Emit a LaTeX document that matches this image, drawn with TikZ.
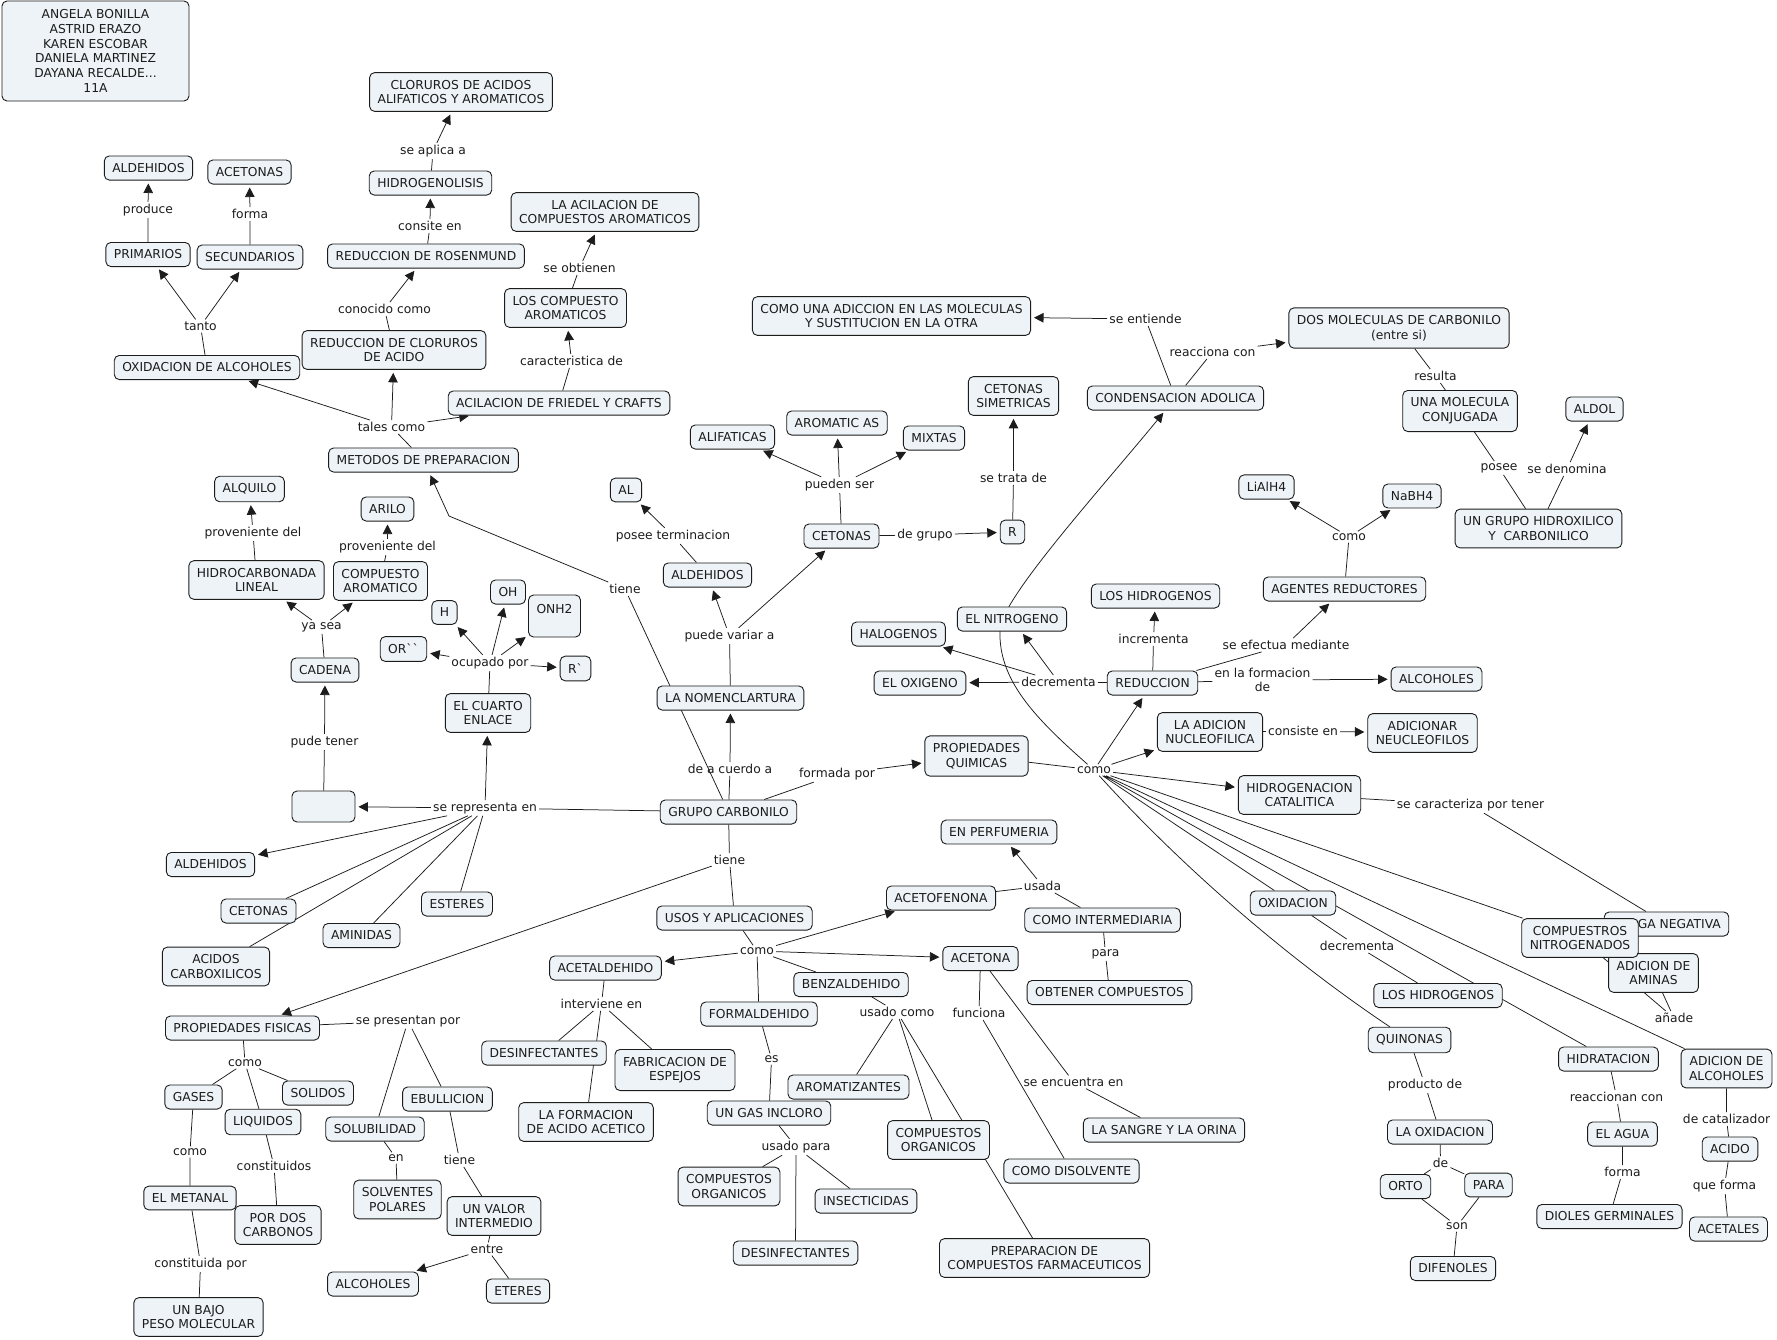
\documentclass[tikz,border=0pt]{standalone}
\usepackage{fontspec}
\setmainfont{DejaVu Sans}
\usetikzlibrary{arrows.meta}

\definecolor{cfill}{HTML}{EDF3F6}
\definecolor{ink}{HTML}{1C1C1C}

\pgfdeclarelayer{bg}
\pgfsetlayers{bg,main}

\tikzset{
  cpt/.style={draw=ink, line width=0.9pt, fill=cfill, rounded corners=5pt,
    inner xsep=8pt, inner ysep=7.4pt, align=center, text=ink},
  lbl/.style={inner sep=2pt, align=center, text=ink},
  ln/.style={draw=ink, line width=0.75pt},
  arr/.style={ln, -{Triangle[length=9.5pt,width=9.5pt]}, shorten >=3pt},
}

\begin{document}
\begin{tikzpicture}[x=1pt,y=-1pt,font=\fontsize{12.3}{14.7}\selectfont]
\useasboundingbox (0,0) rectangle (1777,1339);

% authors
\node[cpt, minimum width=187pt, minimum height=100pt] (autores) at (95.5,51)
  {ANGELA BONILLA\\ASTRID ERAZO\\KAREN ESCOBAR\\DANIELA MARTINEZ\\DAYANA RECALDE...\\11A};

% metodos de preparacion
\node[cpt] (cloruros) at (461,92) {CLORUROS DE ACIDOS\\ALIFATICOS Y AROMATICOS};
\node[cpt] (hidrogenolisis) at (430.5,183) {HIDROGENOLISIS};
\node[cpt] (rosenmund) at (426,256) {REDUCCION DE ROSENMUND};
\node[cpt] (redclor) at (394,350) {REDUCCION DE CLORUROS\\DE ACIDO};
\node[cpt] (oxialc) at (207,367.5) {OXIDACION DE ALCOHOLES};
\node[cpt] (primarios) at (148,254.5) {PRIMARIOS};
\node[cpt] (secundarios) at (250,257) {SECUNDARIOS};
\node[cpt] (aldeh1) at (148.5,168) {ALDEHIDOS};
\node[cpt] (aceton1) at (249.5,172) {ACETONAS};
\node[cpt] (acilcomp) at (605,212) {LA ACILACION DE\\COMPUESTOS AROMATICOS};
\node[cpt] (compaurom) at (565.5,308) {LOS COMPUESTO\\AROMATICOS};
\node[cpt] (friedel) at (559,403) {ACILACION DE FRIEDEL Y CRAFTS};
\node[cpt] (metodos) at (423.5,460) {METODOS DE PREPARACION};

\node[lbl] (lAplica) at (433,151) {se aplica a};
\node[lbl] (lConsite) at (430,226) {consite en};
\node[lbl] (lConocido) at (384.5,309) {conocido como};
\node[lbl] (lTanto) at (200.5,326) {tanto};
\node[lbl] (lProduce) at (148,210) {produce};
\node[lbl] (lForma) at (250,214) {forma};
\node[lbl] (lTales) at (391.5,427) {tales como};
\node[lbl] (lObtienen) at (579.5,268) {se obtienen};
\node[lbl] (lCaract) at (571.5,361) {caracteristica de};

% cetonas and condensacion
\node[cpt] (comouna) at (891.5,316) {COMO UNA ADICCION EN LAS MOLECULAS\\Y SUSTITUCION EN LA OTRA};
\node[cpt] (alifaticas) at (732.5,437) {ALIFATICAS};
\node[cpt] (aromaticas) at (837,423) {AROMATIC AS};
\node[cpt] (mixtas) at (934,438) {MIXTAS};
\node[cpt] (cetsim) at (1013.5,396) {CETONAS\\SIMETRICAS};
\node[cpt] (condens) at (1175.5,398) {CONDENSACION ADOLICA};
\node[cpt] (dosmol) at (1399,328) {DOS MOLECULAS DE CARBONILO\\(entre si)};
\node[cpt] (conjugada) at (1460,411) {UNA MOLECULA\\CONJUGADA};
\node[cpt] (aldol) at (1594.5,409) {ALDOL};
\node[cpt] (hidroxi) at (1538.5,528.5) {UN GRUPO HIDROXILICO\\Y\ \ CARBONILICO};

\node[lbl] (lEntiende) at (1145.5,319) {se entiende};
\node[lbl] (lReacc) at (1212.5,352) {reacciona con};
\node[lbl] (lResulta) at (1435.5,376) {resulta};
\node[lbl] (lPosee) at (1499,468) {posee};
\node[lbl] (lDenomina) at (1567,469) {se denomina};

% cadena and cuarto enlace
\node[cpt] (alquilo) at (249.5,489) {ALQUILO};
\node[cpt] (arilo) at (387.5,509) {ARILO};
\node[cpt] (hidrolin) at (256.5,580) {HIDROCARBONADA\\LINEAL};
\node[cpt] (compar) at (380.5,581) {COMPUESTO\\AROMATICO};
\node[cpt] (cadena) at (325,670) {CADENA};
\node[cpt, minimum width=63pt, minimum height=31pt] (vacio) at (323.5,806.5) {};
\node[cpt] (orr) at (403.5,649) {OR\textasciigrave\textasciigrave};
\node[cpt] (hh) at (444.5,612.5) {H};
\node[cpt] (oh) at (508,592) {OH};
\node[cpt, minimum width=51pt, minimum height=42pt] (onh) at (554.5,616) {ONH2\\\mbox{}};
\node[cpt] (rprima) at (575.5,668.5) {R\textasciigrave};
\node[cpt] (cuarto) at (488,713) {EL CUARTO\\ENLACE};

\node[lbl] (lProvA) at (253,533) {proveniente del};
\node[lbl] (lProvB) at (387.5,547) {proveniente del};
\node[lbl] (lYasea) at (321.5,627) {ya sea};
\node[lbl] (lPude) at (324.5,742) {pude tener};
\node[lbl] (lOcupado) at (490,663) {ocupado por};
\node[lbl] (lRepr) at (485,808) {se representa en};

% grupo carbonilo and nomenclatura
\node[cpt] (grupo) at (728.5,812) {GRUPO CARBONILO};
\node[cpt] (nomen) at (730.5,698) {LA NOMENCLARTURA};
\node[cpt] (aldeh2) at (707.5,575) {ALDEHIDOS};
\node[cpt] (al) at (626,490) {AL};
\node[cpt] (ceton2) at (841.5,536) {CETONAS};
\node[cpt] (rr) at (1012.5,532) {R};

\node[lbl] (lAcuerdo) at (730,769) {de a cuerdo a};
\node[lbl] (lFormada) at (837,774) {formada por};
\node[lbl] (lVariar) at (729.5,636) {puede variar a};
\node[lbl] (lTermin) at (673,536) {posee terminacion};
\node[lbl] (lPueden) at (839.5,485) {pueden ser};
\node[lbl] (lTieneA) at (625,589) {tiene};
\node[lbl] (lTieneB) at (729.5,860) {tiene};
\node[lbl] (lTrata) at (1013.5,478) {se trata de};
\node[lbl] (lGrupo) at (925,535) {de grupo};
\coordinate (kink) at (449,516);

% propiedades quimicas
\node[cpt] (halog) at (898.5,634) {HALOGENOS};
\node[cpt] (oxig) at (920,683) {EL OXIGENO};
\node[cpt] (nitro) at (1012,619) {EL NITROGENO};
\node[cpt] (hidrogA) at (1155.5,596) {LOS HIDROGENOS};
\node[cpt] (reduc) at (1152.5,683) {REDUCCION};
\node[cpt] (agentes) at (1344.5,589) {AGENTES REDUCTORES};
\node[cpt] (lialh) at (1266.5,487) {LiAlH4};
\node[cpt] (nabh) at (1412,496) {NaBH4};
\node[cpt] (alcohA) at (1436.5,679) {ALCOHOLES};
\node[cpt] (adnuc) at (1210,732) {LA ADICION\\NUCLEOFILICA};
\node[cpt] (adneu) at (1422.5,733) {ADICIONAR\\NEUCLEOFILOS};
\node[cpt] (propq) at (976.5,756) {PROPIEDADES\\QUIMICAS};
\node[cpt] (hidrocat) at (1299.5,795) {HIDROGENACION\\CATALITICA};
\node[cpt] (oxid) at (1293,903) {OXIDACION};
\node[cpt] (carga) at (1666.5,924) {CARGA NEGATIVA};
\node[cpt] (aminas) at (1653.5,973) {ADICION DE\\AMINAS};
\node[cpt] (nitrog) at (1580,938) {COMPUESTROS\\NITROGENADOS};
\node[cpt] (hidrogB) at (1438,995.5) {LOS HIDROGENOS};
\node[cpt] (quinonas) at (1409.5,1040) {QUINONAS};
\node[cpt] (laoxid) at (1440,1132) {LA OXIDACION};
\node[cpt] (orto) at (1405.5,1186.5) {ORTO};
\node[cpt] (para) at (1488.5,1185) {PARA};
\node[cpt] (difenoles) at (1453,1268.5) {DIFENOLES};
\node[cpt] (hidrat) at (1608.5,1059) {HIDRATACION};
\node[cpt] (agua) at (1622.5,1134) {EL AGUA};
\node[cpt] (dioles) at (1609.5,1216.5) {DIOLES GERMINALES};
\node[cpt] (adalc) at (1726.5,1068.5) {ADICION DE\\ALCOHOLES};
\node[cpt] (acido) at (1730,1149) {ACIDO};
\node[cpt] (acetales) at (1728.5,1229) {ACETALES};

\node[lbl] (lIncrem) at (1153.5,639) {incrementa};
\node[lbl] (lDecremA) at (1058.5,682) {decrementa};
\node[lbl] (lEfectua) at (1286,645) {se efectua mediante};
\node[lbl] (lFormac) at (1262.5,680) {en la formacion\\de};
\node[lbl] (lConsiste) at (1303,731) {consiste en};
\node[lbl] (lComoA) at (1094,770) {como};
\node[lbl] (lComoB) at (1349,537) {como};
\node[lbl] (lCaracteriza) at (1470.5,805) {se caracteriza por tener};
\node[lbl] (lDecremB) at (1357,946) {decrementa};
\node[lbl] (lAnade) at (1674,1018) {añade};
\node[lbl] (lProducto) at (1425,1085) {producto de};
\node[lbl] (lDe) at (1440.5,1163) {de};
\node[lbl] (lSon) at (1457,1226) {son};
\node[lbl] (lReaccionan) at (1616.5,1097) {reaccionan con};
\node[lbl] (lFormaB) at (1622.5,1172) {forma};
\node[lbl] (lCatal) at (1726.5,1119) {de catalizador};
\node[lbl] (lQueforma) at (1724.5,1186) {que forma};
\coordinate (nitcurve) at (1000,630);

% se representa en
\node[cpt] (aldeh3) at (210.5,864.5) {ALDEHIDOS};
\node[cpt] (ceton3) at (258.5,911) {CETONAS};
\node[cpt] (aminidas) at (361.5,935.5) {AMINIDAS};
\node[cpt] (esteres) at (457,904) {ESTERES};
\node[cpt] (acidos) at (216,966.5) {ACIDOS\\CARBOXILICOS};

% propiedades fisicas
\node[cpt] (propf) at (242.5,1028) {PROPIEDADES FISICAS};
\node[cpt] (gases) at (193.5,1097) {GASES};
\node[cpt] (solidos) at (318,1093) {SOLIDOS};
\node[cpt] (liquidos) at (263,1122) {LIQUIDOS};
\node[cpt] (solub) at (375,1129) {SOLUBILIDAD};
\node[cpt] (ebull) at (447.5,1099) {EBULLICION};
\node[cpt] (metanal) at (190,1198) {EL METANAL};
\node[cpt] (pordos) at (278,1225) {POR DOS\\CARBONOS};
\node[cpt] (solventes) at (397.5,1199.5) {SOLVENTES\\POLARES};
\node[cpt] (bajo) at (198.5,1317) {UN BAJO\\PESO MOLECULAR};
\node[cpt] (alcohB) at (373,1284) {ALCOHOLES};
\node[cpt] (valor) at (494,1216) {UN VALOR\\INTERMEDIO};
\node[cpt] (eteres) at (518,1291) {ETERES};

\node[lbl] (lPresentan) at (408,1021) {se presentan por};
\node[lbl] (lComoC) at (245,1063) {como};
\node[lbl] (lComoD) at (190,1152) {como};
\node[lbl] (lConstos) at (274,1166) {constituidos};
\node[lbl] (lEn) at (396,1158) {en};
\node[lbl] (lConstpor) at (200.5,1264) {constituida por};
\node[lbl] (lTieneC) at (459.5,1160) {tiene};
\node[lbl] (lEntre) at (487,1249) {entre};

% usos y aplicaciones
\node[cpt] (usos) at (734.5,918) {USOS Y APLICACIONES};
\node[cpt] (acetal) at (605.5,968) {ACETALDEHIDO};
\node[cpt] (desinfA) at (544,1053) {DESINFECTANTES};
\node[cpt] (espejos) at (675,1070) {FABRICACION DE\\ESPEJOS};
\node[cpt] (acetico) at (586,1122) {LA FORMACION\\DE ACIDO ACETICO};
\node[cpt] (formal) at (759,1014) {FORMALDEHIDO};
\node[cpt] (gas) at (769,1113) {UN GAS INCLORO};
\node[cpt] (comporgA) at (729,1186.5) {COMPUESTOS\\ORGANICOS};
\node[cpt] (insect) at (866,1201) {INSECTICIDAS};
\node[cpt] (desinfB) at (795.5,1253) {DESINFECTANTES};
\node[cpt] (benzal) at (851,984.5) {BENZALDEHIDO};
\node[cpt] (aromatiz) at (848.5,1087) {AROMATIZANTES};
\node[cpt] (comporgB) at (938.5,1140) {COMPUESTOS\\ORGANICOS};
\node[cpt] (farma) at (1044.5,1258) {PREPARACION DE\\COMPUESTOS FARMACEUTICOS};
\node[cpt] (acetof) at (941,898) {ACETOFENONA};
\node[cpt] (perfum) at (999,832) {EN PERFUMERIA};
\node[cpt] (interm) at (1102.5,920) {COMO INTERMEDIARIA};
\node[cpt] (obtener) at (1109.5,992.5) {OBTENER COMPUESTOS};
\node[cpt] (acetona) at (980.5,958.5) {ACETONA};
\node[cpt] (sangre) at (1164,1130) {LA SANGRE Y LA ORINA};
\node[cpt] (disolv) at (1071.5,1171) {COMO DISOLVENTE};

\node[lbl] (lComoE) at (757,951) {como};
\node[lbl] (lInterv) at (601.5,1004) {interviene en};
\node[lbl] (lEs) at (771.5,1059) {es};
\node[lbl] (lUsadop) at (796,1147) {usado para};
\node[lbl] (lUsadoc) at (897,1012) {usado como};
\node[lbl] (lUsada) at (1042.5,886) {usada};
\node[lbl] (lPara) at (1105.5,954) {para};
\node[lbl] (lFunciona) at (979,1013) {funciona};
\node[lbl] (lEncuentra) at (1073.5,1082) {se encuentra en};

% connectors
\begin{pgfonlayer}{bg}
\fill[white] (0,0) rectangle (1777,1339);

% top left
\draw[ln] (oxialc) -- (lTanto) (primarios) -- (lProduce) (secundarios) -- (lForma);
\draw[ln] (metodos) -- (lTales) (redclor) -- (lConocido) (rosenmund) -- (lConsite);
\draw[ln] (hidrogenolisis) -- (lAplica) (friedel) -- (lCaract) (compaurom) -- (lObtienen);
\draw[arr] (lTanto) -- (primarios);
\draw[arr] (lTanto) -- (secundarios);
\draw[arr] (lProduce) -- (aldeh1);
\draw[arr] (lForma) -- (aceton1);
\draw[arr] (lTales) -- (oxialc);
\draw[arr] (lTales) -- (redclor);
\draw[arr] (lTales) -- (friedel);
\draw[arr] (lConocido) -- (rosenmund);
\draw[arr] (lConsite) -- (hidrogenolisis);
\draw[arr] (lAplica) -- (cloruros);
\draw[arr] (lCaract) -- (compaurom);
\draw[arr] (lObtienen) -- (acilcomp);

% nomenclatura and cetonas
\draw[ln] (grupo) -- (lTieneA);
\draw[arr] (lTieneA) -- (kink) -- (metodos);
\draw[ln] (grupo) -- (lAcuerdo);
\draw[arr] (lAcuerdo) -- (nomen);
\draw[ln] (nomen) -- (lVariar);
\draw[arr] (lVariar) -- (aldeh2);
\draw[arr] (lVariar) -- (ceton2);
\draw[ln] (aldeh2) -- (lTermin);
\draw[arr] (lTermin) -- (al);
\draw[ln] (ceton2) -- (lPueden) (ceton2) -- (lGrupo) (rr) -- (lTrata);
\draw[arr] (lPueden) -- (alifaticas);
\draw[arr] (lPueden) -- (aromaticas);
\draw[arr] (lPueden) -- (mixtas);
\draw[arr] (lGrupo) -- (rr);
\draw[arr] (lTrata) -- (cetsim);

% se representa en
\draw[ln] (grupo) -- (lRepr);
\draw[arr] (lRepr) -- (vacio);
\draw[arr] (lRepr) -- (cuarto);
\draw[arr] (lRepr) -- (aldeh3);
\draw[ln] (lRepr) -- (ceton3) (lRepr) -- (acidos) (lRepr) -- (aminidas) (lRepr) -- (esteres);
\draw[ln] (cuarto) -- (lOcupado);
\draw[arr] (lOcupado) -- (orr);
\draw[arr] (lOcupado) -- (hh);
\draw[arr] (lOcupado) -- (oh);
\draw[arr] (lOcupado) -- (onh);
\draw[arr] (lOcupado) -- (rprima);
\draw[ln] (vacio) -- (lPude) (cadena) -- (lYasea) (hidrolin) -- (lProvA) (compar) -- (lProvB);
\draw[arr] (lPude) -- (cadena);
\draw[arr] (lYasea) -- (hidrolin);
\draw[arr] (lYasea) -- (compar);
\draw[arr] (lProvA) -- (alquilo);
\draw[arr] (lProvB) -- (arilo);

% propiedades quimicas
\draw[ln] (grupo) -- (lFormada) (propq) -- (lComoA);
\draw[arr] (lFormada) -- (propq);
\draw[arr] (lComoA) -- (reduc);
\draw[arr] (lComoA) -- (adnuc);
\draw[arr] (lComoA) -- (hidrocat);
\draw[arr] (lComoA) .. controls (1035,718) and (998,680) .. (nitcurve)
  .. controls (1000,600) and (1100,490) .. (condens);
\draw[ln] (lComoA) -- (oxid) (lComoA) -- (hidrat) (lComoA) -- (adalc) (lComoA) -- (nitrog);
\draw[ln] (lComoA) .. controls (1185,870) and (1290,960) .. (quinonas);
\draw[ln] (reduc) -- (lDecremA) (reduc) -- (lIncrem) (reduc) -- (lEfectua) (reduc) -- (lFormac);
\draw[arr] (lDecremA) -- (oxig);
\draw[arr] (lDecremA) -- (halog);
\draw[arr] (lDecremA) -- (nitro);
\draw[arr] (lIncrem) -- (hidrogA);
\draw[arr] (lEfectua) -- (agentes);
\draw[arr] (lFormac) -- (alcohA);
\draw[ln] (agentes) -- (lComoB);
\draw[arr] (lComoB) -- (lialh);
\draw[arr] (lComoB) -- (nabh);
\draw[ln] (adnuc) -- (lConsiste);
\draw[arr] (lConsiste) -- (adneu);
\draw[ln] (condens) -- (lEntiende) (condens) -- (lReacc);
\draw[arr] (lEntiende) -- (comouna);
\draw[arr] (lReacc) -- (dosmol);
\draw[ln] (dosmol) -- (lResulta) (lResulta) -- (conjugada) (conjugada) -- (lPosee) (lPosee) -- (hidroxi);
\draw[ln] (hidroxi) -- (lDenomina);
\draw[arr] (lDenomina) -- (aldol);
\draw[ln] (hidrocat) -- (lCaracteriza) (lCaracteriza) -- (carga);
\draw[ln] (aminas) -- (lAnade) (lAnade) -- (nitrog);
\draw[ln] (oxid) -- (lDecremB) (lDecremB) -- (hidrogB);
\draw[ln] (quinonas) -- (lProducto) (lProducto) -- (laoxid);
\draw[ln] (laoxid) -- (lDe) (lDe) -- (orto) (lDe) -- (para);
\draw[ln] (orto) -- (lSon) (para) -- (lSon) (lSon) -- (difenoles);
\draw[ln] (hidrat) -- (lReaccionan) (lReaccionan) -- (agua) (agua) -- (lFormaB) (lFormaB) -- (dioles);
\draw[ln] (adalc) -- (lCatal) (lCatal) -- (acido) (acido) -- (lQueforma) (lQueforma) -- (acetales);

% propiedades fisicas
\draw[ln] (grupo) -- (lTieneB) (lTieneB) -- (usos);
\draw[arr] (lTieneB) -- (propf);
\draw[ln] (propf) -- (lPresentan) (lPresentan) -- (solub) (lPresentan) -- (ebull);
\draw[ln] (propf) -- (lComoC) (lComoC) -- (gases) (lComoC) -- (liquidos) (lComoC) -- (solidos);
\draw[ln] (gases) -- (lComoD) (lComoD) -- (metanal) (metanal) -- (lConstpor) (lConstpor) -- (bajo);
\draw[ln] (liquidos) -- (lConstos) (lConstos) -- (pordos) (solub) -- (lEn) (lEn) -- (solventes);
\draw[ln] (ebull) -- (lTieneC) (lTieneC) -- (valor) (valor) -- (lEntre) (lEntre) -- (eteres);
\draw[arr] (lEntre) -- (alcohB);

% usos y aplicaciones
\draw[ln] (usos) -- (lComoE) (lComoE) -- (formal) (lComoE) -- (benzal);
\draw[arr] (lComoE) -- (acetal);
\draw[arr] (lComoE) -- (acetof);
\draw[arr] (lComoE) -- (acetona);
\draw[ln] (acetal) -- (lInterv) (lInterv) -- (desinfA) (lInterv) -- (espejos) (lInterv) -- (acetico);
\draw[ln] (formal) -- (lEs) (lEs) -- (gas) (gas) -- (lUsadop);
\draw[ln] (lUsadop) -- (comporgA) (lUsadop) -- (insect) (lUsadop) -- (desinfB);
\draw[ln] (benzal) -- (lUsadoc) (lUsadoc) -- (aromatiz) (lUsadoc) -- (comporgB) (lUsadoc) -- (farma);
\draw[ln] (acetona) -- (lFunciona) (lFunciona) -- (disolv) (acetona) -- (lEncuentra) (lEncuentra) -- (sangre);
\draw[ln] (acetof) -- (lUsada) (lUsada) -- (interm) (interm) -- (lPara) (lPara) -- (obtener);
\draw[arr] (lUsada) -- (perfum);
\end{pgfonlayer}

\end{tikzpicture}
\end{document}
